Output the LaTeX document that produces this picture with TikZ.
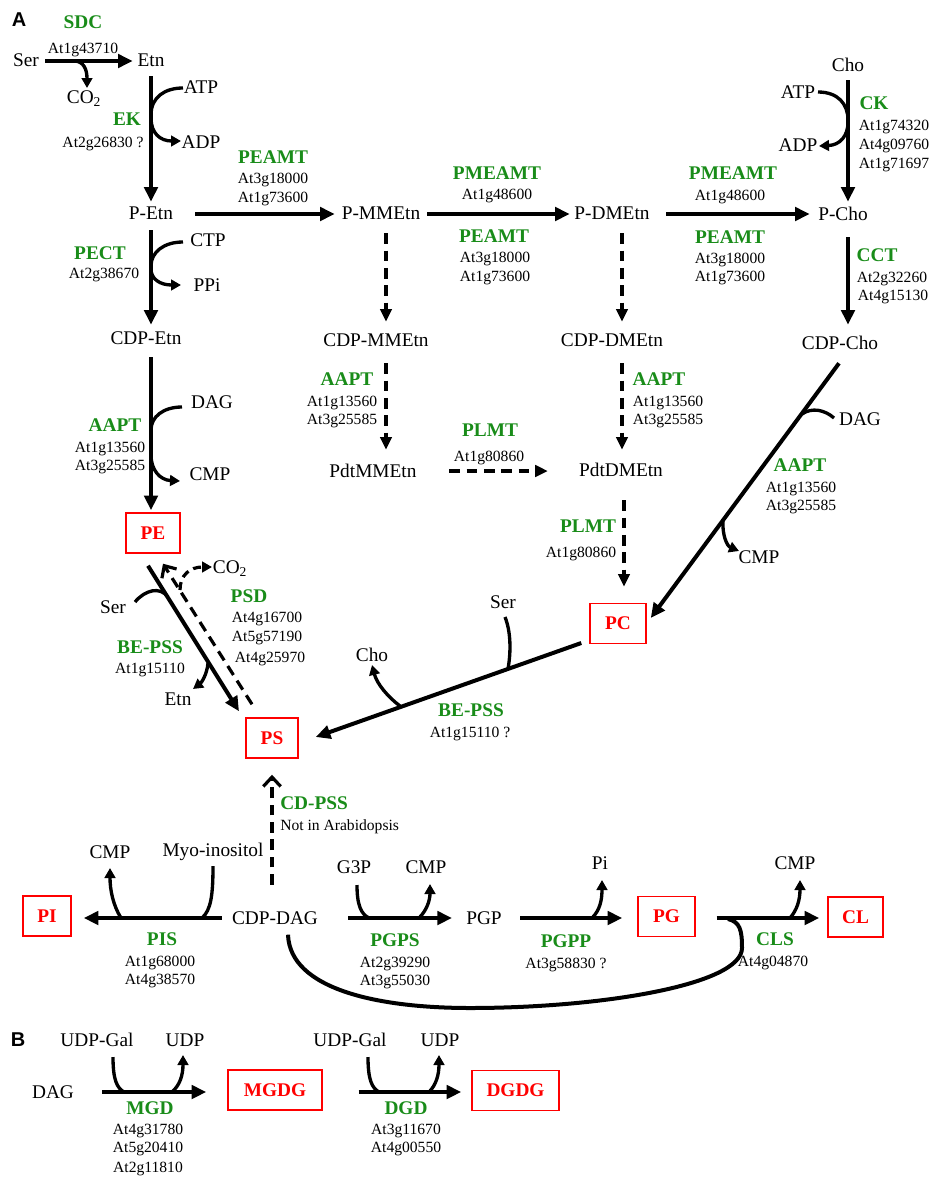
\documentclass[tikz,border=0pt]{standalone}
\usepackage{fontspec}
\setmainfont{Liberation Serif}
\newfontfamily\labfont{Liberation Sans}
\usetikzlibrary{arrows.meta,calc}
\definecolor{enzgreen}{RGB}{25,140,25}
\definecolor{boxred}{RGB}{255,0,0}
\begin{document}
\begin{tikzpicture}[x=0.75pt,y=-0.75pt,
  met/.style={font=\fontsize{14.5}{17}\selectfont, inner sep=0pt, text height=9.6pt, text depth=0pt},
  enz/.style={font=\fontsize{14.5}{17}\selectfont\bfseries, text=enzgreen, inner sep=0pt, text height=9.6pt, text depth=0pt},
  gene/.style={font=\fontsize{11.7}{14}\selectfont, inner sep=0pt, text height=7.7pt, text depth=0pt},
  lipid/.style={draw=boxred, line width=1.1pt, text=boxred, font=\fontsize{14.5}{17}\selectfont\bfseries, inner sep=0pt, text height=9.6pt, text depth=0pt, minimum height=30pt},
  panel/.style={font=\labfont\fontsize{15}{18}\selectfont\bfseries, inner sep=0pt},
  main/.style={line width=3pt, -{Triangle[length=11pt,width=10pt]}},
  mainl/.style={line width=3pt},
  side/.style={line width=2.5pt, -{Triangle[length=7.5pt,width=8pt]}},
  sidel/.style={line width=2.5pt},
  dsh/.style={line width=2.4pt, dash pattern=on 8pt off 5pt, -{Triangle[length=9.5pt,width=8.5pt]}},
  dshopen/.style={line width=2.4pt, dash pattern=on 8pt off 5pt, -{Straight Barb[length=7pt,width=13pt]}},
]
\useasboundingbox (0,0) rectangle (934,1178);

% ---------- Panel A labels ----------
\node[panel] (pA) at (19,20) {A};
\node[enz] (sdc) at (83,22) {SDC};
\node[gene] (gsdc) at (83,48) {At1g43710};
\node[met] (ser1) at (26,60) {Ser};
\node[met] (etn1) at (151,60) {Etn};
\node[met] (co2a) at (84,97) {CO\textsubscript{2}};

\node[met] (atp1) at (201,87) {ATP};
\node[met] (adp1) at (201,142) {ADP};
\node[enz] (ek) at (127,119) {EK};
\node[gene] (gek) at (103,142) {At2g26830 ?};

\node[met] (petn) at (151,213) {P-Etn};
\node[enz] (peamt1) at (273,157) {PEAMT};
\node[gene] (gpeamt1a) at (273,178) {At3g18000};
\node[gene] (gpeamt1b) at (273,197) {At1g73600};

\node[met] (pmmetn) at (381,213) {P-MMEtn};
\node[met] (pdmetn) at (612,213) {P-DMEtn};
\node[met] (pcho) at (843,214) {P-Cho};

\node[enz] (pmeamt1) at (497,173) {PMEAMT};
\node[gene] (gpmeamt1) at (497,194) {At1g48600};
\node[enz] (peamt2) at (494,236) {PEAMT};
\node[gene] (gpeamt2a) at (495,257) {At3g18000};
\node[gene] (gpeamt2b) at (495,276) {At1g73600};

\node[enz] (pmeamt2) at (733,173) {PMEAMT};
\node[gene] (gpmeamt2) at (730,195) {At1g48600};
\node[enz] (peamt3) at (730,237) {PEAMT};
\node[gene] (gpeamt3a) at (730,258) {At3g18000};
\node[gene] (gpeamt3b) at (730,276) {At1g73600};

\node[met] (cho1) at (848,65) {Cho};
\node[met] (atp2) at (798,92) {ATP};
\node[met] (adp2) at (798,145) {ADP};
\node[enz] (ck) at (874,103) {CK};
\node[gene] (gcka) at (894,125) {At1g74320};
\node[gene] (gckb) at (894,144) {At4g09760};
\node[gene] (gckc) at (894,163) {At1g71697};

\node[met] (cdpcho) at (840,343) {CDP-Cho};
\node[enz] (cct) at (877,255) {CCT};
\node[gene] (gccta) at (892,277) {At2g32260};
\node[gene] (gcctb) at (893,295) {At4g15130};

\node[met] (cdpetn) at (146,338) {CDP-Etn};
\node[met] (ctp) at (208,240) {CTP};
\node[met] (ppi) at (207,285) {PPi};
\node[enz] (pect) at (100,253) {PECT};
\node[gene] (gpect) at (104,273) {At2g38670};

\node[lipid, minimum width=40.5pt] (pe) at (153,533) {PE};
\node[met] (dag1) at (212,402) {DAG};
\node[met] (cmp1) at (210,474) {CMP};
\node[enz] (aapt1) at (115,425) {AAPT};
\node[gene] (gaapt1a) at (110,447) {At1g13560};
\node[gene] (gaapt1b) at (110,465) {At3g25585};

\node[met] (cdpmm) at (376,340) {CDP-MMEtn};
\node[met] (pdtmm) at (373,471) {PdtMMEtn};
\node[enz] (aapt2) at (347,379) {AAPT};
\node[gene] (gaapt2a) at (342,401) {At1g13560};
\node[gene] (gaapt2b) at (342,419) {At3g25585};

\node[met] (cdpdm) at (612,340) {CDP-DMEtn};
\node[met] (pdtdm) at (621,470) {PdtDMEtn};
\node[enz] (aapt3) at (659,379) {AAPT};
\node[gene] (gaapt3a) at (668,401) {At1g13560};
\node[gene] (gaapt3b) at (668,419) {At3g25585};

\node[enz] (plmt1) at (490,430) {PLMT};
\node[gene] (gplmt1) at (489,456) {At1g80860};
\node[enz] (plmt2) at (588,526) {PLMT};
\node[gene] (gplmt2) at (581,552) {At1g80860};

\node[lipid, minimum width=42pt] (pc) at (618,623.5) {PC};
\node[met] (dag2) at (860,419) {DAG};
\node[met] (cmp2) at (759,557) {CMP};
\node[enz] (aapt4) at (800,465) {AAPT};
\node[gene] (gaapt4a) at (801,487) {At1g13560};
\node[gene] (gaapt4b) at (801,505) {At3g25585};

\node[lipid, minimum width=39pt] (ps) at (272,738) {PS};
\node[met] (ser2) at (503,602) {Ser};
\node[met] (cho2) at (372,655) {Cho};
\node[enz] (bepss2) at (471,710) {BE-PSS};
\node[gene] (gbepss2) at (470,732) {At1g15110 ?};

\node[met] (ser3) at (113,607) {Ser};
\node[met] (etn3) at (178,699) {Etn};
\node[enz] (bepss1) at (150,647) {BE-PSS};
\node[gene] (gbepss1) at (150,668) {At1g15110};
\node[met] (co2b) at (230,567) {CO\textsubscript{2}};
\node[enz] (psd) at (249,596) {PSD};
\node[gene] (gpsda) at (267,617) {At4g16700};
\node[gene] (gpsdb) at (267,636) {At5g57190};
\node[gene] (gpsdc) at (270,657) {At4g25970};

\node[enz, anchor=west] (cdpss) at (280,803) {CD-PSS};
\node[gene, anchor=west] (notin) at (280,825) {Not in Arabidopsis};

\node[met] (cdpdag) at (275,918) {CDP-DAG};
\node[lipid, minimum width=36pt] (pi) at (47,916) {PI};
\node[met] (cmp3) at (110,852) {CMP};
\node[met] (myo) at (213,850) {Myo-inositol};
\node[enz] (pis) at (162,939) {PIS};
\node[gene] (gpisa) at (160,961) {At1g68000};
\node[gene] (gpisb) at (160,979) {At4g38570};

\node[met] (pgp) at (484,918) {PGP};
\node[met] (g3p) at (354,867) {G3P};
\node[met] (cmp4) at (426,867) {CMP};
\node[enz] (pgps) at (395,940) {PGPS};
\node[gene] (gpgpsa) at (395,962) {At2g39290};
\node[gene] (gpgpsb) at (395,980) {At3g55030};

\node[lipid, minimum width=42.75pt] (pg) at (666.5,916.5) {PG};
\node[met] (pi2) at (600,863) {Pi};
\node[enz] (pgpp) at (566,941) {PGPP};
\node[gene] (gpgpp) at (566,963) {At3g58830 ?};

\node[lipid, minimum width=41.25pt] (cl) at (855.5,917) {CL};
\node[met] (cmp5) at (795,863) {CMP};
\node[enz] (cls) at (775,939) {CLS};
\node[gene] (gcls) at (773,961) {At4g04870};

% ---------- Panel B labels ----------
\node[panel] (pB) at (18,1040) {B};
\node[met] (udpgal1) at (97,1040) {UDP-Gal};
\node[met] (udp1) at (185,1040) {UDP};
\node[met] (dag3) at (53,1092) {DAG};
\node[lipid, minimum width=70.5pt] (mgdg) at (275,1090) {MGDG};
\node[enz] (mgd) at (150,1108) {MGD};
\node[gene] (gmgda) at (148,1129) {At4g31780};
\node[gene] (gmgdb) at (148,1147) {At5g20410};
\node[gene] (gmgdc) at (148,1167) {At2g11810};

\node[met] (udpgal2) at (350,1040) {UDP-Gal};
\node[met] (udp2) at (440,1040) {UDP};
\node[lipid, minimum width=65.25pt] (dgdg) at (515.5,1090.5) {DGDG};
\node[enz] (dgd) at (406,1108) {DGD};
\node[gene] (gdgda) at (406,1129) {At3g11670};
\node[gene] (gdgdb) at (406,1147) {At4g00550};

% ---------- Connectors: panel A ----------
% Ser -> Etn (SDC)
\draw[main] ($(ser1.east)+(6,1)$) -- ($(etn1.west)+(-4.6,1)$);
\draw[side] (74,61) .. controls (84,61) and (87,70) .. (87,88);

% Etn -> P-Etn (EK)
\draw[main] ($(etn1.south)+(0,9.6)$) -- ($(petn.north)+(0,-4.6)$);
\draw[sidel] (183,88) .. controls (165,88) and (151,97) .. (151,115);
\draw[side] (151,118) .. controls (151,133) and (160,141) .. (181,141);

% P-Etn -> P-MMEtn -> P-DMEtn -> P-Cho
\draw[main] ($(petn.east)+(22,1)$) -- ($(pmmetn.west)+(-6.8,1)$);
\draw[main] ($(pmmetn.east)+(6.8,1)$) -- ($(pdmetn.west)+(-4.4,1)$);
\draw[main] ($(pdmetn.east)+(16.4,1)$) -- ($(pcho.west)+(-8.3,0)$);

% Cho -> P-Cho (CK)
\draw[main] ($(cho1.south)+(0,8.6)$) -- ($(cho1.south |- pcho.north)+(0,-5.6)$);
\draw[sidel] (818,92) .. controls (838,92) and (848,104) .. (848,120);
\draw[side] (848,122) .. controls (848,136) and (840,145) .. (819,146);

% P-Cho -> CDP-Cho (CCT)
\draw[main] ($(pcho.south)+(5,16.6)$) -- ($(cdpcho.north)+(8,-11.6)$);

% P-Etn -> CDP-Etn (PECT)
\draw[main] ($(petn.south)+(0,10.6)$) -- ($(petn.south |- cdpetn.north)+(0,-6.6)$);
\draw[sidel] (183,242) .. controls (164,242) and (151,252) .. (151,266);
\draw[side] (151,269) .. controls (151,279) and (160,285) .. (181,285);

% CDP-Etn -> PE (AAPT)
\draw[main] ($(petn.south |- cdpetn.south)+(0,12.6)$) -- ($(petn.south |- pe.north)+(0,-2)$);
\draw[sidel] (182,407) .. controls (163,407) and (151,417) .. (151,430);
\draw[side] (151,455) .. controls (151,470) and (160,480) .. (180,481);

% methylated intermediates (dashed)
\draw[dsh] ($(pmmetn.south)+(5,13.6)$) -- ($(cdpmm.north)+(10,-11.6)$);
\draw[dsh] ($(cdpmm.south)+(10,16.6)$) -- ($(pdtmm.north)+(13,-14.6)$);
\draw[dsh] ($(pdmetn.south)+(10,13.6)$) -- ($(cdpdm.north)+(10,-11.6)$);
\draw[dsh] ($(cdpdm.south)+(10,16.6)$) -- ($(pdtdm.north)+(1,-13.6)$);
\draw[dsh] ($(pdtmm.east)+(32.5,0)$) -- ($(pdtdm.west)+(-31,1)$);
\draw[dsh] ($(pdtdm.south)+(3,23.6)$) -- ($(pc.north)+(6,-16)$);

% CDP-Cho -> PC (AAPT)
\draw[main] ($(cdpcho.south)+(-1,13.6)$) -- ($(pc.east)+(4,-5.5)$);
\draw[sidel] (834,418) .. controls (825,410) and (812,407) .. (802,414);
\draw[side] (723,520) .. controls (722,535) and (727,546) .. (739,551);

% PC -> PS (BE-PSS)
\draw[main] ($(pc.west)+(-8,19.5)$) -- ($(ps.east)+(17,-1)$);
\draw[sidel] (505,617) .. controls (511,632) and (511,652) .. (508,669);
\draw[side] (400,706) .. controls (388,697) and (377,684) .. (372,665);

% PE <-> PS
\draw[main] ($(pe.south)+(-5,12)$) -- ($(ps.north)+(-33,-6)$);
\draw[sidel] (135,602) .. controls (145,590) and (160,586) .. (168,597);
\draw[side] (208,663) .. controls (207,675) and (201,683) .. (193,689);
\draw[dshopen] ($(ps.north)+(-20,-13)$) -- ($(pe.south)+(10,10)$);
\draw[line width=2.4pt, dash pattern=on 6pt off 4pt, -{Triangle[length=7.5pt,width=8pt]}] (180,590) .. controls (180,575) and (190,567) .. (212,567);

% CDP-DAG -> PS (CD-PSS)
\draw[dshopen] ($(cdpdag.north)+(-3,-26.6)$) -- ($(ps.south)+(0,16)$);

% CDP-DAG -> PI (PIS)
\draw[main] ($(cdpdag.west)+(-10,0)$) -- ($(pi.east)+(12,2)$);
\draw[side] (121,918) .. controls (113,905) and (110,890) .. (110,868);
\draw[sidel] (213,866) .. controls (213,895) and (211,910) .. (202,918);

% CDP-DAG -> PGP (PGPS)
\draw[main] ($(cdpdag.east)+(30,0)$) -- ($(pgp.west)+(-14,0)$);
\draw[sidel] (357,885) .. controls (357,905) and (361,914) .. (369,918);
\draw[side] (419,918) .. controls (427,910) and (430,900) .. (430,884);

% PGP -> PG (PGPP)
\draw[main] ($(pgp.east)+(18,0)$) -- ($(pg.west)+(-15,1.5)$);
\draw[side] (592,918) .. controls (600,910) and (602,900) .. (602,880);

% PG -> CL (CLS)
\draw[main] ($(pg.east)+(21,1.5)$) -- ($(cl.west)+(-8,1)$);
\draw[side] (790,918) .. controls (797,910) and (800,900) .. (800,880);
\draw[mainl] ($(cdpdag.south)+(13,10)$) .. controls (290,990) and (380,1008) .. (470,1008)
  .. controls (600,1008) and (742,985) .. (742,948)
  .. controls (742,930) and (740,922) .. (728,919);

% ---------- Connectors: panel B ----------
\draw[main] ($(dag3.east)+(28,0)$) -- ($(mgdg.west)+(-21,2)$);
\draw[sidel] (113,1057) .. controls (113,1080) and (117,1088) .. (124,1092);
\draw[side] (172,1092) .. controls (180,1085) and (183,1075) .. (183,1055);

\draw[main] ($(mgdg.east)+(36,2)$) -- ($(dgdg.west)+(-10,1.5)$);
\draw[sidel] (368,1057) .. controls (368,1080) and (372,1088) .. (379,1092);
\draw[side] (429,1092) .. controls (436,1085) and (439,1075) .. (439,1055);
\end{tikzpicture}
\end{document}
